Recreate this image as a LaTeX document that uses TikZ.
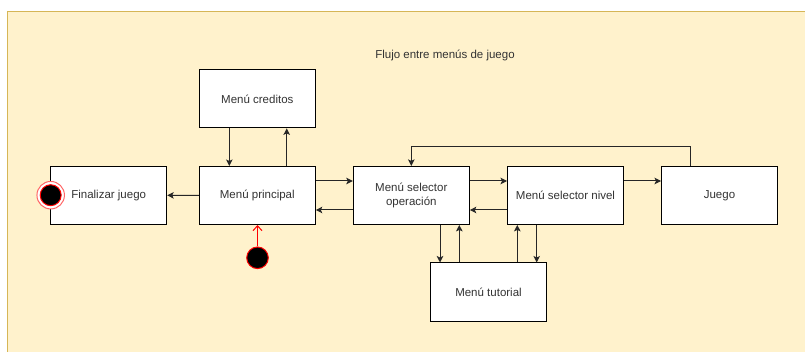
\documentclass[tikz,border=0pt]{standalone}
\usepackage{fontspec}
\setmainfont{Liberation Sans}
\usetikzlibrary{arrows.meta}
\definecolor{bgfill}{HTML}{FFF2CC}
\definecolor{bgline}{HTML}{D6B656}
\definecolor{txt}{HTML}{333333}
\definecolor{ring}{HTML}{FF6666}
\begin{document}
\begin{tikzpicture}[x=1pt,y=-1pt,
  box/.style={draw=black,fill=white,line width=1pt,minimum width=116pt,minimum height=58pt,inner sep=0pt,align=center,font=\fontsize{11.5}{14.5}\selectfont,text=txt},
  conn/.style={line width=1pt,draw=black!85,-{Stealth[length=6.5pt,width=6.5pt,inset=1.5pt]}},
  line/.style={line width=1pt,draw=black!85},
  lbl/.style={font=\fontsize{11.5}{14.5}\selectfont,text=txt,inner sep=0pt}]
\useasboundingbox (0,0) rectangle (805,352);
\fill[bgfill] (7.3,11.7) rectangle (806,353);
\draw[bgline,line width=1.2pt] (7.3,353) -- (7.3,11.7) -- (806,11.7);

\node[lbl] (title) at (445,55) {Flujo entre menús de juego};

\node[box] (crd) at (257.3,98.9) {Menú creditos};
\node[box] (pri) at (257.3,195.5) {Menú principal};
\node[box] (fin) at (108.7,195.3) {Finalizar juego};
\node[box] (op)  at (411.3,195.4) {Menú selector\\operación};
\node[box] (niv) at (565.5,195.4) {Menú selector nivel};
\node[box] (jue) at (719.5,195.4) {Juego};
\node[box] (tut) at (488.5,292) {Menú tutorial};

\coordinate (xa) at (229.3,0);
\coordinate (xb) at (286.7,0);
\coordinate (xc) at (440,0);
\coordinate (xd) at (459.3,0);
\coordinate (xe) at (517.3,0);
\coordinate (xf) at (536.7,0);
\coordinate (xg) at (690.7,0);
\coordinate (yu) at (0,181);
\coordinate (yl) at (0,210);
\coordinate (ytop) at (0,146.7);

% credits <-> principal
\draw[conn] (crd.south -| xa) -- (pri.north -| xa);
\draw[conn] (pri.north -| xb) -- (crd.south -| xb);
% principal -> finalizar
\draw[conn] (pri.west) -- (fin.east);
% principal <-> operacion
\draw[conn] (pri.east |- yu) -- (op.west |- yu);
\draw[conn] (op.west |- yl) -- (pri.east |- yl);
% operacion <-> nivel
\draw[conn] (op.east |- yu) -- (niv.west |- yu);
\draw[conn] (niv.west |- yl) -- (op.east |- yl);
% nivel -> juego
\draw[conn] (niv.east |- yu) -- (jue.west |- yu);
% juego -> operacion (loop)
\coordinate (c1) at (xg |- ytop);
\coordinate (c2) at (op.north |- ytop);
\draw[conn] (jue.north -| xg) -- (c1) -- (c2) -- (op.north);
% operacion <-> tutorial
\draw[conn] (op.south -| xc) -- (tut.north -| xc);
\draw[conn] (tut.north -| xd) -- (op.south -| xd);
% tutorial <-> nivel
\draw[conn] (tut.north -| xe) -- (niv.south -| xe);
\draw[conn] (niv.south -| xf) -- (tut.north -| xf);

% start state
\node[circle,fill=black,draw=red,line width=1pt,minimum size=21.6pt,inner sep=0pt] (st) at (257.5,257.8) {};
\draw[red,line width=1pt,-{Straight Barb[length=5pt,width=9pt]}] (st.north) -- (st.north |- pri.south);

% end state
\node[circle,draw=ring,fill=white,line width=1pt,minimum size=27.5pt,inner sep=0pt] (endo) at (50.7,195.2) {};
\node[circle,fill=black,draw=red,line width=1pt,minimum size=21pt,inner sep=0pt] (endi) at (endo) {};
\end{tikzpicture}
\end{document}
